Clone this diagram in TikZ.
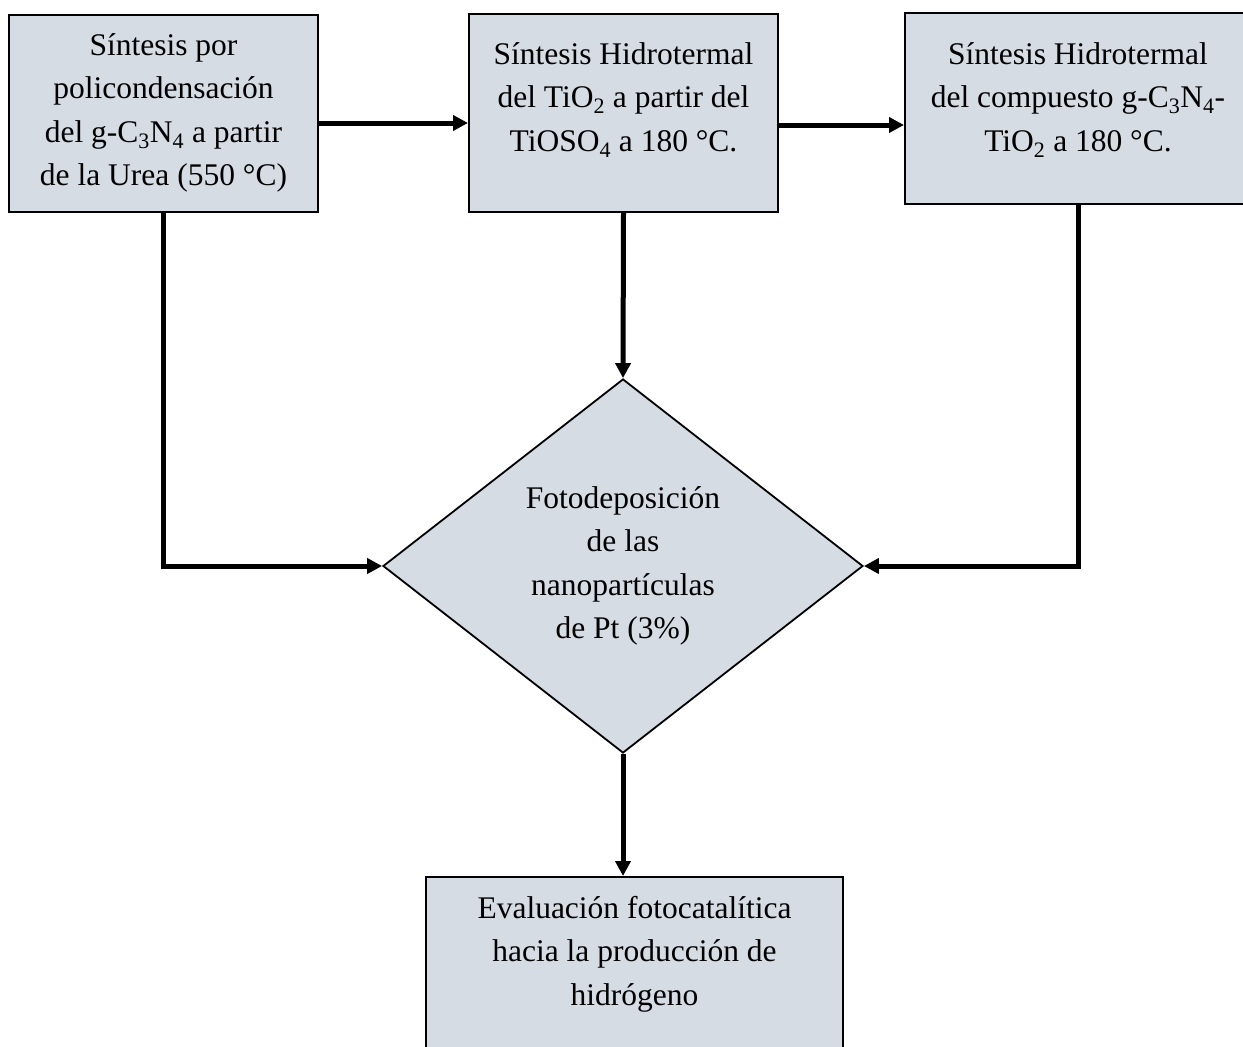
\documentclass[tikz,border=0pt]{standalone}
\usepackage{fontspec}
\setmainfont{Liberation Serif}
\usetikzlibrary{arrows.meta,shapes.geometric,positioning}
\definecolor{boxfill}{HTML}{D6DCE4}
\newcommand{\flowfont}{\fontsize{31.5pt}{43.5pt}\selectfont}
\tikzset{
  process box/.style={draw=black,line width=2pt,fill=boxfill,inner sep=0pt},
  decision box/.style={diamond,draw=black,line width=1.8pt,fill=boxfill,inner sep=0pt,aspect=1.28,align=center,font=\flowfont},
  box text/.style={inner sep=0pt,align=center,font=\flowfont,anchor=north},
  flow line/.style={line width=5pt,-{Triangle[length=15pt,width=15pt]}},
}

\begin{document}
\begin{tikzpicture}[x=1pt,y=-1pt]
\useasboundingbox (0,0) rectangle (1243,1047);
% synthesis steps
\node[process box,minimum width=309pt,minimum height=197pt] (urea) at (163.5,113.5) {};
\node[box text,below=19pt of urea.north] (urea text) {Síntesis por\\policondensación\\del g-C\textsubscript{3}N\textsubscript{4} a partir\\de la Urea (550 °C)};
\node[process box,minimum width=309pt,minimum height=198pt] (tio2) at (623.5,113) {};
\node[box text,below=29pt of tio2.north] (tio2 text) {Síntesis Hidrotermal\\del TiO\textsubscript{2} a partir del\\TiOSO\textsubscript{4} a 180 °C.};
\node[process box,minimum width=346pt,minimum height=191pt] (compuesto) at (1078,108.5) {};
\node[box text,below=30pt of compuesto.north] (compuesto text) {Síntesis Hidrotermal\\del compuesto g-C\textsubscript{3}N\textsubscript{4}-\\TiO\textsubscript{2} a 180 °C.};
% Pt deposition and evaluation
\node[decision box,minimum width=480pt,minimum height=374pt] (foto) at (623,566) {Fotodeposición\\de las\\nanopartículas\\de Pt (3\%)};
\node[process box,minimum width=417pt,minimum height=193pt] (eval) at (634.5,973.5) {};
\node[box text,below=20pt of eval.north] (eval text) {Evaluación fotocatalítica\\hacia la producción de\\hidrógeno};
% connectors
\draw[flow line] ([yshift=-9.5pt]urea.east) -- ([yshift=-9.5pt]urea.east -| tio2.west);
\draw[flow line] ([yshift=-12pt]tio2.east) -- ([yshift=-12pt]tio2.east -| compuesto.west);
\draw[flow line] (urea.south) |- (foto.west);
\draw[flow line] (tio2.south) -- (foto.north);
\draw[flow line] (compuesto.south) |- (foto.east);
\draw[flow line] (foto.south) -- (foto.south |- eval.north);
\end{tikzpicture}
\end{document}
